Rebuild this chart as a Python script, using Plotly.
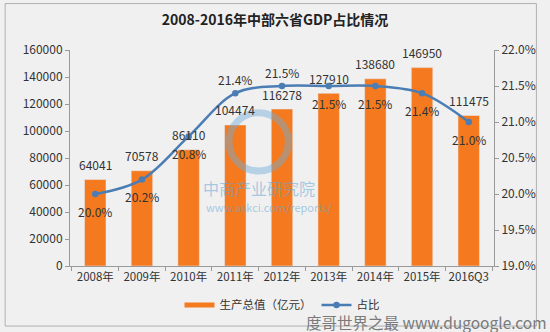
import plotly.graph_objects as go

categories = ["2008年", "2009年", "2010年", "2011年", "2012年", "2013年", "2014年", "2015年", "2016Q3"]
gdp = [64041, 70578, 86110, 104474, 116278, 127910, 138680, 146950, 111475]
share = [20.0, 20.2, 20.8, 21.4, 21.5, 21.5, 21.5, 21.4, 21.0]
share_labels = ["20.0%", "20.2%", "20.8%", "21.4%", "21.5%", "21.5%", "21.5%", "21.4%", "21.0%"]
share_label_above = [False, False, False, True, True, False, False, False, False]

orange = "#F57A1F"
blue = "#4B7DB5"
font = "Noto Sans CJK SC, Microsoft YaHei, sans-serif"
label_font = dict(size=12, color="#333333", family=font)

fig = go.Figure()
fig.add_bar(x=categories, y=gdp, marker_color=orange, width=0.46, showlegend=False)
fig.add_scatter(x=[None], y=[None], mode="lines", line=dict(color=orange, width=5),
                name="生产总值（亿元）")
fig.add_scatter(x=categories, y=share, yaxis="y2", mode="lines+markers",
                line=dict(color=blue, width=2.5, shape="spline"),
                marker=dict(size=6.5, color=blue), name="占比")

annotations = []
for c, v in zip(categories, gdp):
    annotations.append(dict(x=c, y=v, xref="x", yref="y", text=str(v), showarrow=False,
                            yshift=15, font=label_font))
for c, v, t, above in zip(categories, share, share_labels, share_label_above):
    annotations.append(dict(x=c, y=v, xref="x", yref="y2", text=t, showarrow=False,
                            yshift=14 if above else -17, font=label_font))

annotations += [
    dict(text="中商产业研究院", xref="paper", yref="paper", x=0.445, y=0.36, showarrow=False,
         font=dict(size=16, color="rgba(100,165,210,0.55)", family=font)),
    dict(text="www.askci.com/reports/", xref="paper", yref="paper", x=0.47, y=0.225,
         showarrow=False, font=dict(size=11, color="rgba(100,165,210,0.55)", family=font)),
    dict(text="度哥世界之最 www.dugoogle.com", xref="paper", yref="paper", x=1.13, y=-0.26,
         xanchor="right", yanchor="middle", showarrow=False,
         font=dict(size=15.5, color="#7a7a7a", family=font)),
]

axis_common = dict(showline=True, linecolor="#9a9a9a", linewidth=1, ticks="outside",
                   tickcolor="#9a9a9a", ticklen=4, showgrid=False, zeroline=False,
                   tickfont=dict(size=12, color="#333333", family=font))

fig.update_layout(
    width=550, height=332,
    margin=dict(l=70, r=56, t=50, b=66),
    paper_bgcolor="#f0f0f0", plot_bgcolor="rgba(0,0,0,0)",
    font=dict(family=font),
    title=dict(text="<b>2008-2016年中部六省GDP占比情况</b>", x=0.5, xanchor="center",
               y=0.94, yanchor="middle", font=dict(size=14, color="#222222", family=font)),
    xaxis=dict(**{**axis_common, "tickfont": dict(size=11.5, color="#333333", family=font)},
               tickson="boundaries", type="category", tickangle=0),
    yaxis=dict(**axis_common, range=[0, 160000], dtick=20000, tickformat="d"),
    yaxis2=dict(**axis_common, overlaying="y", side="right", range=[19, 22], dtick=0.5,
                tickformat=".1f", ticksuffix="%"),
    legend=dict(orientation="h", x=0.5, xanchor="center", y=-0.18, yanchor="middle",
                font=dict(size=11.5, color="#333333", family=font), bgcolor="rgba(0,0,0,0)",
                itemwidth=30),
    shapes=[
        dict(type="rect", xref="paper", yref="paper", x0=-0.153, x1=1.1, y0=-0.278, y1=1.215,
             line=dict(color="#b0b0b0", width=1), fillcolor="rgba(0,0,0,0)", layer="below"),
        dict(type="circle", xref="paper", yref="paper", x0=0.375, x1=0.515, y0=0.44, y1=0.71,
             line=dict(color="rgba(110,170,215,0.45)", width=7), layer="above"),
    ],
    annotations=annotations,
)

fig.write_html("out.html")
